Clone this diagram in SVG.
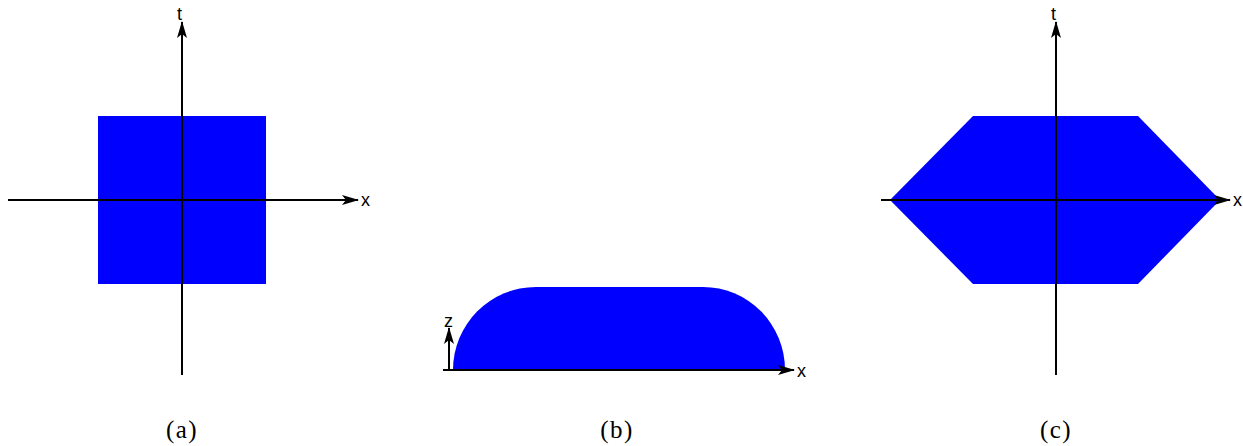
<svg xmlns="http://www.w3.org/2000/svg" width="1243" height="446" viewBox="0 0 1243 446">
<style>
.ax{stroke:#000;stroke-width:2;fill:none}
.fill{fill:#0000ff;stroke:none}
.lbl{font-family:"Liberation Sans",Arial,sans-serif;font-size:18px;fill:#000}
.cap{font-family:"Liberation Serif","Times New Roman",serif;font-size:25px;letter-spacing:1.5px;fill:#000;text-anchor:middle}
</style>
<defs>
<marker id="ah" viewBox="0 0 17 10" refX="16" refY="5" markerWidth="17" markerHeight="10" markerUnits="userSpaceOnUse" orient="auto">
<path d="M0,0 L17,5 L0,10 L4,5 Z" fill="#000"/>
</marker>
</defs>
<g id="shape-a"><rect class="fill" x="98" y="116" width="168" height="168"/></g>
<g id="shape-b"><path class="fill" d="M453,370 A83,83 0 0 1 536,287 L703,287 A82,83 0 0 1 785,370 Z"/></g>
<g id="shape-c"><polygon class="fill" points="890,200 973,116 1138,116 1220,200 1138,284 973,284"/></g>
<g id="connectors">
<line class="ax" x1="8" y1="200" x2="358" y2="200" marker-end="url(#ah)"/>
<line class="ax" x1="182" y1="375" x2="182" y2="22" marker-end="url(#ah)"/>
<line class="ax" x1="443" y1="370" x2="794" y2="370" marker-end="url(#ah)"/>
<line class="ax" x1="449" y1="370" x2="449" y2="328" marker-end="url(#ah)"/>
<line class="ax" x1="881" y1="200" x2="1230" y2="200" marker-end="url(#ah)"/>
<line class="ax" x1="1056" y1="375" x2="1056" y2="22" marker-end="url(#ah)"/>
</g>
<g id="labels">
<text class="lbl" x="361" y="206">x</text>
<text class="lbl" x="177" y="20">t</text>
<text class="lbl" x="797" y="377">x</text>
<text class="lbl" x="444" y="327">z</text>
<text class="lbl" x="1233" y="206">x</text>
<text class="lbl" x="1051" y="20">t</text>
<text class="cap" x="182" y="438">(a)</text>
<text class="cap" x="617" y="438">(b)</text>
<text class="cap" x="1056" y="438">(c)</text>
</g>
</svg>
